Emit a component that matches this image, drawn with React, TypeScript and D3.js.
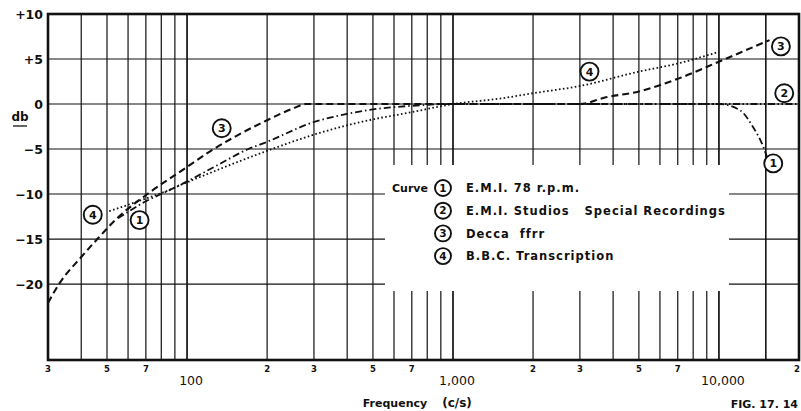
import React from "react";
import * as d3 from "d3";

// ---- data ----
const yTicks = [10, 5, 0, -5, -10, -15, -20];
const yTickLabels = ["+10", "+5", "0", "\u22125", "\u221210", "\u221215", "\u221220"];
const gridFreqs = [40, 50, 60, 70, 80, 90, 100, 200, 300, 400, 500, 600, 700, 800, 900, 1000,
  2000, 3000, 4000, 5000, 6000, 7000, 8000, 9000, 10000, 15000];
const minorTickFreqs = [30, 50, 70, 200, 300, 500, 700, 2000, 3000, 5000, 7000, 20000];
const minorTickLabels = ["3", "5", "7", "2", "3", "5", "7", "2", "3", "5", "7", "2"];
const majorTickFreqs = [100, 1000, 10000];
const majorTickLabels = ["100", "1,000", "10,000"];

// Curve 1: E.M.I. 78 r.p.m.
const freq1 = [55, 60, 70, 80, 100, 130, 170, 200, 300, 400, 500, 700, 1000, 3000, 10000, 12000, 13400, 14700, 15200];
const db1 = [-12.7, -12.0, -10.8, -10.0, -8.6, -6.8, -5.0, -4.2, -2.0, -1.1, -0.6, -0.2, 0, 0, 0, -0.7, -2.5, -4.8, -6.0];
// Curve 2: E.M.I. Studios Special Recordings
const freq2 = [1000, 10000, 20000];
const db2 = [0, 0, 0];
// Curve 3: Decca ffrr
const freq3 = [30, 33, 40, 46, 55, 71, 100, 120, 150, 200, 250, 280, 1000, 3000, 3700, 5000, 7300, 10000, 12000, 15500];
const db3 = [-22.1, -20, -17, -15, -12.6, -10, -7.0, -5.4, -3.7, -1.8, -0.5, 0, 0, 0, 0.7, 1.4, 3.0, 4.7, 5.7, 7.1];
// Curve 4: B.B.C. Transcription
const freq4 = [51, 60, 70, 80, 100, 150, 200, 300, 450, 700, 1000, 1500, 2000, 3000, 5000, 7000, 10000];
const db4 = [-11.9, -11.2, -10.5, -9.9, -8.7, -6.6, -5.2, -3.4, -2.0, -0.9, 0, 0.6, 1.2, 2.0, 3.6, 4.5, 5.8];

const curveNums = ["1", "2", "3", "4"];
const legendLabels = ["E.M.I. 78 r.p.m.", "E.M.I. Studios   Special Recordings", "Decca  ffrr", "B.B.C. Transcription"];
// curve number markers placed on the chart (freq, dB)
const markerNums = ["4", "1", "3", "4", "3", "2", "1"];
const markerFreqs = [44.2, 66.3, 135, 3260, 17100, 17600, 16000];
const markerDbs = [-12.3, -12.9, -2.7, 3.6, 6.4, 1.2, -6.6];

const W = 801, H = 411;
const L = 48, R = 799, T = 14, B = 360;
const FONT = "'DejaVu Sans', sans-serif";

export default function App() {
  const x = d3.scaleLog().domain([30, 20000]).range([L, R]);
  const y = d3.scaleLinear().domain([10, -28.44]).range([T, B]);
  const mk = (f: number[], v: number[]) =>
    d3.line<number>().x((_, i) => x(f[i])).y((_, i) => y(v[i])).curve(d3.curveMonotoneX)(f) || "";

  const box = { x0: 385, x1: 729, y0: 165, y1: 291 };
  const curves = [
    { d: mk(freq1, db1), dash: "7 3 1.5 3", w: 1.8 },
    { d: mk(freq2, db2), dash: "7 2.5 1.5 2.5 1.5 2.5", w: 1.8 },
    { d: mk(freq3, db3), dash: "7 4", w: 2.1 },
    { d: mk(freq4, db4), dash: "1.6 2.4", w: 1.8 },
  ];

  return (
    <svg width={W} height={H} style={{ position: "absolute", left: 0, top: 0, background: "#fff" }}>
      <rect x={0} y={0} width={W} height={H} fill="#fff" />
      {/* vertical grid */}
      {gridFreqs.map((f) => (
        <line key={"v" + f} x1={x(f)} x2={x(f)} y1={T} y2={B} stroke="#111"
          strokeWidth={f === 100 || f === 1000 || f === 10000 ? 1.7 : 1.2} />
      ))}
      {/* horizontal grid */}
      {yTicks.slice(1).map((t) => (
        <line key={"h" + t} x1={L} x2={R} y1={y(t)} y2={y(t)} stroke="#111" strokeWidth={1.2} />
      ))}
      {/* legend box (blank area) */}
      <rect x={box.x0} y={box.y0} width={box.x1 - box.x0} height={box.y1 - box.y0} fill="#fff" />
      <line x1={x(15000)} x2={x(15000)} y1={T} y2={B} stroke="#111" strokeWidth={1.2} />
      {/* curves */}
      {curves.map((c, i) => (
        <path key={"c" + i} d={c.d} fill="none" stroke="#111" strokeWidth={c.w} strokeDasharray={c.dash} />
      ))}
      {/* frame */}
      <rect x={L} y={T} width={R - L} height={B - T} fill="none" stroke="#111" strokeWidth={2.6} />
      {/* y tick labels */}
      {yTicks.map((t, i) => (
        <text key={"yl" + t} x={43} y={y(t)} dy="0.36em" textAnchor="end" fontFamily={FONT}
          fontWeight="bold" fontSize={12.5} fill="#111">{yTickLabels[i]}</text>
      ))}
      <text x={20} y={121} textAnchor="middle" fontFamily={FONT} fontWeight="bold" fontSize={12} fill="#111">db</text>
      <line x1={13} x2={27} y1={126} y2={126} stroke="#111" strokeWidth={1.3} />
      {/* x tick labels */}
      {minorTickFreqs.map((f, i) => (
        <text key={"xm" + i} x={x(f) + (f === 20000 ? -2 : 0)} y={372} textAnchor="middle" fontFamily={FONT}
          fontWeight="bold" fontSize={8.5} fill="#111">{minorTickLabels[i]}</text>
      ))}
      {majorTickFreqs.map((f, i) => (
        <text key={"xM" + i} x={x(f) + 4} y={385} textAnchor="middle" fontFamily={FONT}
          fontSize={12.5} fill="#111">{majorTickLabels[i]}</text>
      ))}
      <text x={395} y={407} textAnchor="middle" fontFamily={FONT} fontWeight="bold" fontSize={11} fill="#111">Frequency</text>
      <text x={457} y={407} textAnchor="middle" fontFamily={FONT} fontWeight="bold" fontSize={12} fill="#111">(c/s)</text>
      <text x={798} y={408} textAnchor="end" fontFamily={FONT} fontWeight="bold" fontSize={11} fill="#111">FIG. 17. 14</text>
      {/* curve markers */}
      {markerNums.map((n, i) => (
        <g key={"m" + i} transform={`translate(${x(markerFreqs[i])},${y(markerDbs[i])})`}>
          <circle r={9} fill="#fff" stroke="#111" strokeWidth={1.9} />
          <text dy="0.36em" textAnchor="middle" fontFamily={FONT} fontWeight="bold" fontSize={11} fill="#111">{n}</text>
        </g>
      ))}
      {/* legend */}
      <text x={392} y={188} dy="0.36em" fontFamily={FONT} fontWeight="bold" fontSize={11} fill="#111">Curve</text>
      {curveNums.map((n, i) => (
        <g key={"lg" + i}>
          <circle cx={443} cy={188 + i * 22.7} r={8} fill="#fff" stroke="#111" strokeWidth={1.9} />
          <text x={443} y={188 + i * 22.7} dy="0.36em" textAnchor="middle" fontFamily={FONT} fontWeight="bold"
            fontSize={10.5} fill="#111">{n}</text>
          <text x={466} y={188 + i * 22.7} dy="0.36em" fontFamily={FONT} fontWeight="bold" fontSize={11.5}
            letterSpacing={1} fill="#111" style={{ whiteSpace: "pre" }}>{legendLabels[i]}</text>
        </g>
      ))}
    </svg>
  );
}
